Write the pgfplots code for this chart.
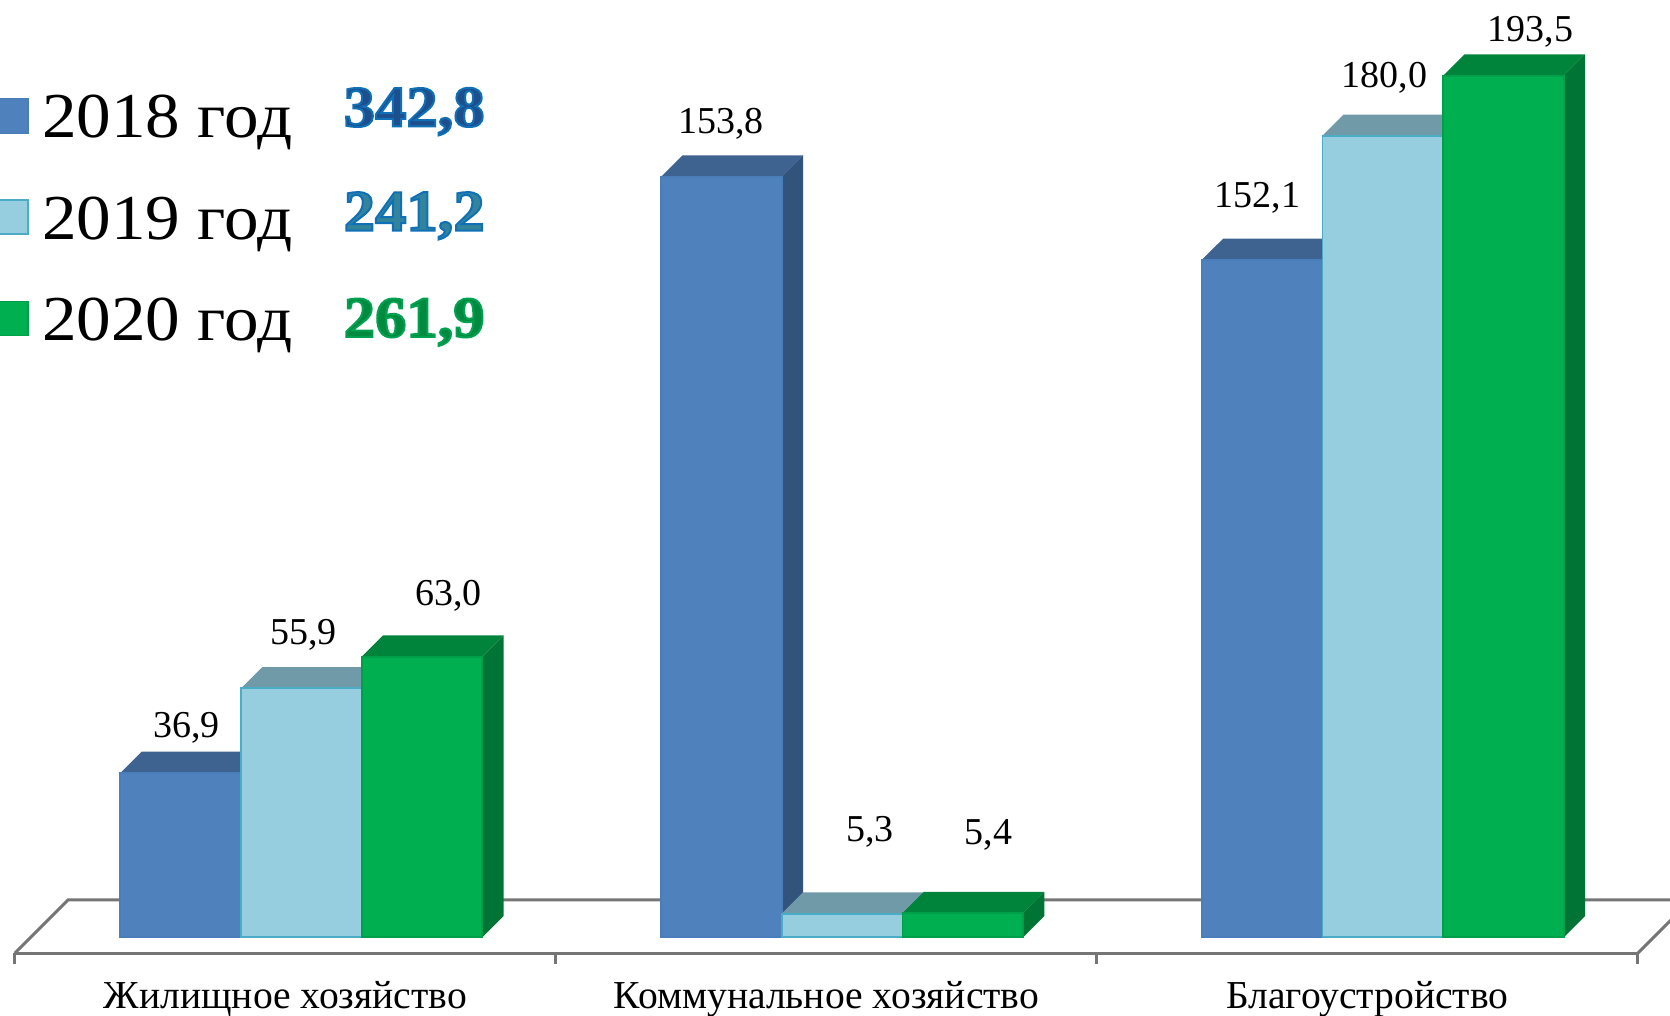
\documentclass[border=0pt]{standalone}
\usepackage{fontspec}
\setmainfont{Liberation Serif}
\newfontfamily\legfont[FakeStretch=1.08]{Liberation Serif}
\newfontfamily\sumfont[FakeStretch=1.08]{Liberation Serif Bold}
\usepackage{pgfplots}
\pgfplotsset{compat=1.18}

\definecolor{afront}{HTML}{4F81BD}
\definecolor{atop}{HTML}{3F6390}
\definecolor{aside}{HTML}{32537C}
\definecolor{aedge}{HTML}{4A7EBB}
\definecolor{bfront}{HTML}{96CEDF}
\definecolor{btop}{HTML}{719AA8}
\definecolor{bside}{HTML}{5F8796}
\definecolor{bedge}{HTML}{4BACC6}
\definecolor{cfront}{HTML}{00B050}
\definecolor{ctop}{HTML}{00843C}
\definecolor{cside}{HTML}{007434}
\definecolor{cedge}{HTML}{00A04A}
\definecolor{floorline}{HTML}{757575}

% group, slot (-1,0,1), value, series prefix
\newcommand{\dbar}[4]{%
  \pgfmathsetmacro\xa{#1+#2*0.2232-0.1116}%
  \pgfmathsetmacro\xb{\xa+0.2232}%
  \pgfmathsetmacro\xc{\xa+0.0394}%
  \pgfmathsetmacro\xd{\xb+0.0394}%
  \pgfmathsetmacro\yt{#3+4.78}%
  \addplot[forget plot,draw=none,fill=#4side] coordinates {(\xb,0) (\xd,4.78) (\xd,\yt) (\xb,#3)} -- cycle;
  \addplot[forget plot,draw=none,fill=#4top] coordinates {(\xa,#3) (\xc,\yt) (\xd,\yt) (\xb,#3)} -- cycle;
  \addplot[forget plot,draw=#4edge,line width=0.9pt,fill=#4front] coordinates {(\xa,0) (\xa,#3) (\xb,#3) (\xb,0)} -- cycle;
}
% bold total with a coloured outline
\newcommand{\total}[2]{{\special{pdf:code 2 Tr 1 w #1 RG}#2\special{pdf:code 0 Tr}}}
\newcommand{\swatch}[2]{\addlegendimage{legend image code/.code={%
  \fill[#1,draw=#2,line width=0.8pt] (-28.3pt,-7.5pt) rectangle (-10.3pt,9.5pt);
  \path (-5.3pt,0pt);}}}

\begin{document}
\begin{tikzpicture}
\path[use as bounding box,clip] (-7.45pt,-31.4pt) rectangle (827.55pt,476.6pt);
\begin{axis}[
  scale only axis,
  width=811.5pt, height=476.6pt,
  clip=false,
  xmin=-0.5298, xmax=2.4719,
  ymin=-3.59, ymax=210.5,
  axis x line*=bottom,
  axis y line=none,
  x axis line style={-,floorline,line width=1.5pt},
  xtick={-0.5298,0.4708,1.4713,2.4719},
  x tick label as interval,
  xticklabels={Жилищное хозяйство,Коммунальное хозяйство,Благоустройство},
  xticklabel style={font=\fontsize{19.8}{21}\selectfont,text=black,yshift=-5.5pt},
  major tick length=5.3pt,
  tick align=outside,
  x tick style={floorline,line width=1.5pt},
  legend style={
    at={([xshift=-10.3pt,yshift=2pt]rel axis cs:-0.002,0.9)},anchor=north west,
    draw=none,fill=none,inner sep=0pt,outer sep=0pt,
    font=\legfont\fontsize{32}{32}\selectfont,
    cells={anchor=west},
    row sep=23.8pt,
    /tikz/every even column/.append style={column sep=3pt},
  },
  legend cell align=left,
]
\swatch{afront}{aedge}
\addlegendentry{2018 год}
\swatch{bfront}{bedge}
\addlegendentry{2019 год}
\swatch{cfront}{cedge}
\addlegendentry{2020 год}

% floor
\addplot[forget plot,floorline,line width=1.5pt] coordinates {(-0.5298,-3.59) (-0.4313,8.37) (2.5704,8.37)};
\addplot[forget plot,floorline,line width=1.5pt] coordinates {(2.4719,-3.59) (2.5704,8.37)};

% Жилищное хозяйство
\dbar{0}{-1}{36.9}{a}
\dbar{0}{0}{55.9}{b}
\dbar{0}{1}{63.0}{c}
% Коммунальное хозяйство: the reference draws the 153,8 bar taller than its scale
\dbar{1}{-1}{170.8}{a}
\dbar{1}{0}{5.3}{b}
\dbar{1}{1}{5.4}{c}
% Благоустройство
\dbar{2}{-1}{152.1}{a}
\dbar{2}{0}{180.0}{b}
\dbar{2}{1}{193.5}{c}

\tikzset{lab/.style={font=\fontsize{19}{20}\selectfont,inner sep=0pt,yshift=-1.6pt},
         tot/.style={font=\sumfont\fontsize{29}{30}\selectfont,inner sep=0pt,yshift=-1.5pt}}
\node[lab] at (axis cs:-0.2127,47.8) {36,9};
\node[lab] at (axis cs:0.0039,68.7) {55,9};
\node[lab] at (axis cs:0.2718,77.3) {63,0};
\node[lab] at (axis cs:0.7760,183.5) {153,8};
\node[lab] at (axis cs:1.0519,24.4) {5,3};
\node[lab] at (axis cs:1.2705,23.7) {5,4};
\node[lab] at (axis cs:1.7687,166.7) {152,1};
\node[lab] at (axis cs:2.0031,193.8) {180,0};
\node[lab] at (axis cs:2.2731,204.1) {193,5};

\definecolor{t1}{HTML}{1F4E8C}
\definecolor{t2}{HTML}{31849B}
\definecolor{t3}{HTML}{008A40}
\node[tot,text=t1] at (axis cs:0.2088,186.1) {\total{0.06 0.44 0.72}{342,8}};
\node[tot,text=t2] at (axis cs:0.2088,162.7) {\total{0.06 0.44 0.72}{241,2}};
\node[tot,text=t3] at (axis cs:0.2088,138.8) {\total{0 0.63 0.31}{261,9}};
\end{axis}
\end{tikzpicture}
\end{document}
